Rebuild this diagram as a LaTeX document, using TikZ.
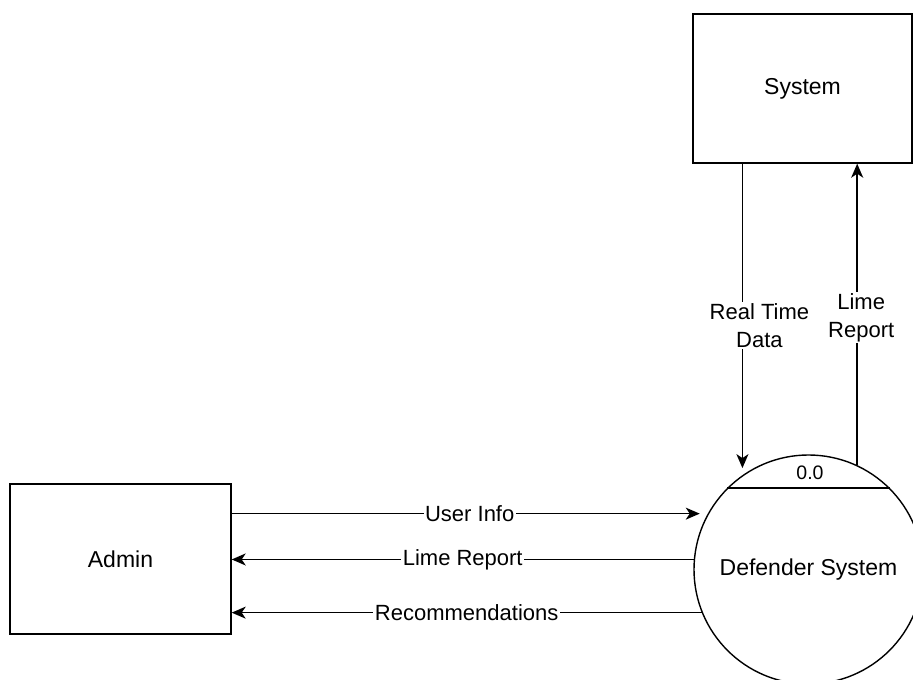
\documentclass[tikz,border=0pt]{standalone}
\usepackage{fontspec}
\setmainfont{Liberation Sans}
\usetikzlibrary{arrows.meta}

\begin{document}
\begin{tikzpicture}[x=1pt, y=1pt,
        entity/.style={draw=black, line width=1.4pt, font=\fontsize{23}{27}\selectfont},
        process/.style={draw=black, circle, minimum size=229pt, inner sep=0pt, line width=1.4pt, font=\fontsize{23}{27}\selectfont},
        flow/.style={black, line width=1.5pt, -{Stealth[length=14pt, width=12pt, inset=4pt]}},
        flowlabel/.style={fill=white, inner sep=1.5pt, align=center, font=\fontsize{22}{28}\selectfont}]
        \useasboundingbox (0,0) rectangle (913,680);

        \node [entity, minimum width=219pt, minimum height=149pt] (system) at (802.5,591.5) {System};
        \node [entity, minimum width=221pt, minimum height=150pt] (admin) at (120.5,121) {Admin};
        \node [process] (defender) at (808.5,110.5) {Defender System};
        \draw [black, line width=1.4pt] (defender.135) to (defender.45);
        \node [font=\fontsize{19.5}{22}\selectfont] (number) at (810,207) {0.0};

        \draw [flow, shorten >=8pt] (admin.east |- defender.151) to node[flowlabel]{User Info} (defender.151);
        \draw [flow] (defender.175) to node[flowlabel]{Lime Report} (admin.east |- defender.175);
        \draw [flow] (defender.202) to node[flowlabel]{Recommendations} (admin.east |- defender.202);

        \draw [flow, shorten >=7pt] (system.south -| defender.125) to node[flowlabel, pos=0.52, xshift=17pt]{Real Time\\Data} (defender.125);
        \draw [flow] (defender.65) to node[flowlabel, pos=0.49, xshift=4pt]{Lime\\Report} (system.south -| defender.65);
    \end{tikzpicture}
\end{document}
